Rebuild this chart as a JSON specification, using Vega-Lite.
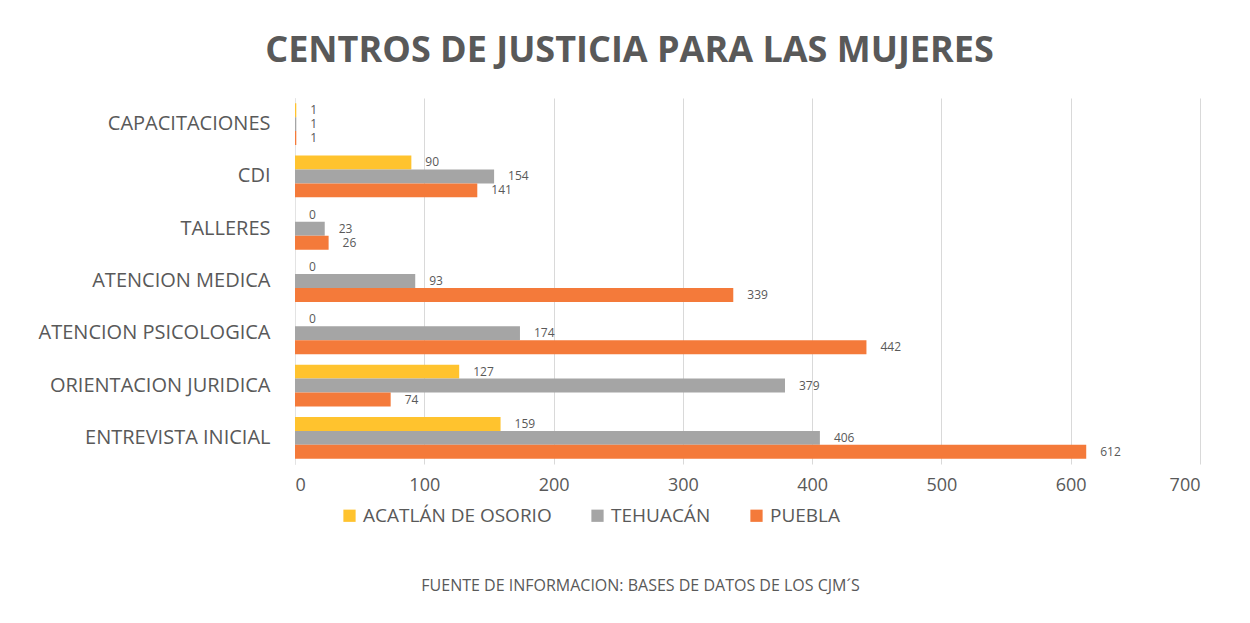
{
  "$schema": "https://vega.github.io/schema/vega-lite/v6.json",
  "autosize": {"type": "none"},
  "width": 905,
  "height": 366,
  "padding": {"left": 295, "top": 98, "right": 50, "bottom": 159},
  "background": "white",
  "config": {"view": {"stroke": null}},
  "title": {
    "text": "CENTROS DE JUSTICIA PARA LAS MUJERES",
    "font": "Open Sans",
    "fontSize": 36,
    "fontWeight": "bold",
    "color": "#595959",
    "anchor": "middle",
    "dx": -118,
    "offset": 28
  },
  "data": {
    "values": [
      {"cat": "CAPACITACIONES", "serie": "ACATLÁN DE OSORIO", "valor": 1},
      {"cat": "CAPACITACIONES", "serie": "TEHUACÁN", "valor": 1},
      {"cat": "CAPACITACIONES", "serie": "PUEBLA", "valor": 1},
      {"cat": "CDI", "serie": "ACATLÁN DE OSORIO", "valor": 90},
      {"cat": "CDI", "serie": "TEHUACÁN", "valor": 154},
      {"cat": "CDI", "serie": "PUEBLA", "valor": 141},
      {"cat": "TALLERES", "serie": "ACATLÁN DE OSORIO", "valor": 0},
      {"cat": "TALLERES", "serie": "TEHUACÁN", "valor": 23},
      {"cat": "TALLERES", "serie": "PUEBLA", "valor": 26},
      {"cat": "ATENCION MEDICA", "serie": "ACATLÁN DE OSORIO", "valor": 0},
      {"cat": "ATENCION MEDICA", "serie": "TEHUACÁN", "valor": 93},
      {"cat": "ATENCION MEDICA", "serie": "PUEBLA", "valor": 339},
      {"cat": "ATENCION PSICOLOGICA", "serie": "ACATLÁN DE OSORIO", "valor": 0},
      {"cat": "ATENCION PSICOLOGICA", "serie": "TEHUACÁN", "valor": 174},
      {"cat": "ATENCION PSICOLOGICA", "serie": "PUEBLA", "valor": 442},
      {"cat": "ORIENTACION JURIDICA", "serie": "ACATLÁN DE OSORIO", "valor": 127},
      {"cat": "ORIENTACION JURIDICA", "serie": "TEHUACÁN", "valor": 379},
      {"cat": "ORIENTACION JURIDICA", "serie": "PUEBLA", "valor": 74},
      {"cat": "ENTREVISTA INICIAL", "serie": "ACATLÁN DE OSORIO", "valor": 159},
      {"cat": "ENTREVISTA INICIAL", "serie": "TEHUACÁN", "valor": 406},
      {"cat": "ENTREVISTA INICIAL", "serie": "PUEBLA", "valor": 612}
    ]
  },
  "encoding": {
    "y": {
      "field": "cat",
      "type": "nominal",
      "sort": ["CAPACITACIONES", "CDI", "TALLERES", "ATENCION MEDICA", "ATENCION PSICOLOGICA", "ORIENTACION JURIDICA", "ENTREVISTA INICIAL"],
      "scale": {"paddingInner": 0.2, "paddingOuter": 0.1},
      "axis": {
        "title": null,
        "domain": true,
        "domainColor": "#E3E3E3",
        "ticks": false,
        "labelPadding": 25,
        "labelFont": "Open Sans",
        "labelFontSize": 20,
        "labelColor": "#595959",
        "labelLimit": 300
      }
    },
    "yOffset": {
      "field": "serie",
      "type": "nominal",
      "sort": ["ACATLÁN DE OSORIO", "TEHUACÁN", "PUEBLA"],
      "scale": {"paddingInner": 0, "paddingOuter": 0}
    },
    "x": {
      "field": "valor",
      "type": "quantitative",
      "scale": {"domain": [0, 700], "nice": false},
      "axis": {
        "values": [0, 100, 200, 300, 400, 500, 600, 700],
        "domain": false,
        "ticks": false,
        "grid": true,
        "gridColor": "#D9D9D9",
        "gridWidth": 1,
        "labelPadding": 12,
        "labelFont": "Open Sans",
        "labelFontSize": 18,
        "labelColor": "#595959",
        "title": "FUENTE DE INFORMACION: BASES DE DATOS DE LOS CJM´S",
        "titleFont": "Open Sans",
        "titleFontSize": 16,
        "titleFontWeight": "normal",
        "titleColor": "#595959",
        "titleX": 345,
        "titleY": 121,
        "titleBaseline": "middle",
        "titleAnchor": "middle"
      }
    }
  },
  "layer": [
    {
      "mark": {"type": "bar"},
      "encoding": {
        "color": {
          "field": "serie",
          "type": "nominal",
          "sort": ["ACATLÁN DE OSORIO", "TEHUACÁN", "PUEBLA"],
          "scale": {"domain": ["ACATLÁN DE OSORIO", "TEHUACÁN", "PUEBLA"], "range": ["#FFC32E", "#A5A5A5", "#F47A3A"]},
          "legend": {
            "title": null,
            "orient": "none",
            "direction": "horizontal",
            "legendX": 45,
            "legendY": 408,
            "symbolType": "square",
            "symbolSize": 150,
            "symbolStrokeWidth": 0,
            "labelFont": "Open Sans",
            "labelFontSize": 19,
            "labelColor": "#595959",
            "labelOffset": 4,
            "labelLimit": 400,
            "columnPadding": 36
          }
        }
      }
    },
    {
      "mark": {"type": "text", "align": "left", "baseline": "middle", "dx": 14, "font": "Open Sans", "fontSize": 12, "color": "#595959"},
      "encoding": {
        "text": {"field": "valor", "type": "quantitative"}
      }
    }
  ]
}
